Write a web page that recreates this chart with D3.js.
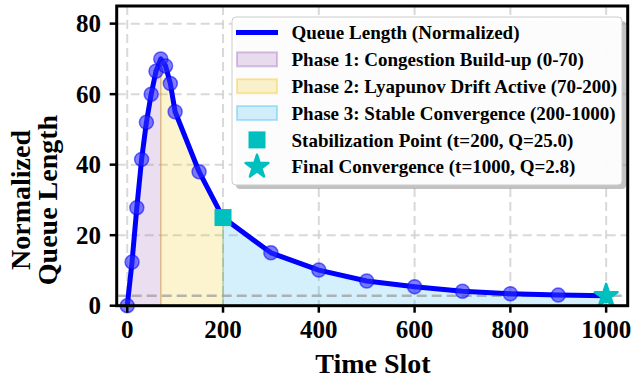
<!DOCTYPE html>
<html><head><meta charset="utf-8">
<script src="https://cdn.jsdelivr.net/npm/d3@7"></script>
<style>body{margin:0;background:#fff}svg{display:block}text{font-family:"Liberation Serif","Times New Roman",serif;font-weight:bold}</style>
</head><body>
<svg id="c" width="634" height="381"></svg>
<script>
const timeSlots = [0,10,20,30,40,50,60,70,80,90,100,150,200,300,400,500,600,700,800,900,1000];
const queueValues = [0,12.4,27.8,41.5,52,60,66.5,70,68,63,55,38,25,15,10.1,7,5.4,4.1,3.4,3.0,2.8];
const xTicks = [0,200,400,600,800,1000];
const yTicks = [0,20,40,60,80];
const phases = [
  {label:"Phase 1: Congestion Build-up (0-70)", start:0, end:70, color:"#9b59b6"},
  {label:"Phase 2: Lyapunov Drift Active (70-200)", start:70, end:200, color:"#f1c40f"},
  {label:"Phase 3: Stable Convergence (200-1000)", start:200, end:1000, color:"#29b6f6"}
];
const stabPoint = {t:200, q:25.0};
const finalPoint = {t:1000, q:2.8};
const seriesLabel = "Queue Length (Normalized)";
const stabLabel = "Stabilization Point (t=200, Q=25.0)";
const finalLabel = "Final Convergence (t=1000, Q=2.8)";

const svg = d3.select("#c");
const L=116.7, R=627.7, T=6, B=305.7;
const x = d3.scaleLinear().domain([-22,1045]).range([L,R]);
const y = d3.scaleLinear().domain([0,85]).range([B,T]);
const pts = timeSlots.map((t,i)=>({t, q:queueValues[i]}));

// grid
const g = svg.append("g");
g.selectAll(".gx").data(xTicks).enter().append("line")
  .attr("x1",d=>x(d)).attr("x2",d=>x(d)).attr("y1",T).attr("y2",B)
  .attr("stroke","#d0d0d0").attr("stroke-width",2).attr("stroke-dasharray","9,5").attr("opacity",0.8);
g.selectAll(".gy").data(yTicks).enter().append("line")
  .attr("x1",L).attr("x2",R).attr("y1",d=>y(d)).attr("y2",d=>y(d))
  .attr("stroke","#d0d0d0").attr("stroke-width",2).attr("stroke-dasharray","9,5").attr("opacity",0.8);

// phase fills
const area = d3.area().x(d=>x(d.t)).y0(y(0)).y1(d=>y(d.q));
phases.forEach(p=>{
  const sub = pts.filter(d=>d.t>=p.start && d.t<=p.end);
  svg.append("path").datum(sub).attr("d",area)
    .attr("fill",p.color).attr("fill-opacity",0.2)
    .attr("stroke",p.color).attr("stroke-opacity",0.35).attr("stroke-width",1.5);
});

// reference line at final value
svg.append("line").attr("x1",L).attr("x2",R).attr("y1",y(finalPoint.q)).attr("y2",y(finalPoint.q))
  .attr("stroke","#999").attr("stroke-width",2.5).attr("stroke-dasharray","10,5").attr("opacity",0.7);

// line
const line = d3.line().x(d=>x(d.t)).y(d=>y(d.q));
svg.append("path").datum(pts).attr("d",line).attr("fill","none")
  .attr("stroke","#0000ff").attr("stroke-width",5).attr("stroke-linejoin","round");
svg.selectAll(".pt").data(pts.filter(d=>d.t!==stabPoint.t && d.t!==finalPoint.t)).enter().append("circle")
  .attr("cx",d=>x(d.t)).attr("cy",d=>y(d.q)).attr("r",7)
  .attr("fill","#2a2aff").attr("fill-opacity",0.6)
  .attr("stroke","#0000ff").attr("stroke-opacity",0.55).attr("stroke-width",1.5);

// special markers
const cyan="#00bfbf";
svg.append("rect").attr("x",x(stabPoint.t)-8.5).attr("y",y(stabPoint.q)-8.5).attr("width",17).attr("height",17).attr("fill",cyan);
const star = d3.symbol().type(d3.symbolStar).size(160);
svg.append("path").attr("d",star()).attr("transform",`translate(${x(finalPoint.t)},${y(finalPoint.q)})`)
  .attr("fill",cyan).attr("stroke",cyan).attr("stroke-width",2.5).attr("stroke-linejoin","round");

// spines
svg.append("rect").attr("x",L).attr("y",T).attr("width",R-L).attr("height",B-T)
  .attr("fill","none").attr("stroke","#000").attr("stroke-width",3);

// axes ticks
svg.selectAll(".xt").data(xTicks).enter().append("line")
  .attr("x1",d=>x(d)).attr("x2",d=>x(d)).attr("y1",B).attr("y2",B+7).attr("stroke","#000").attr("stroke-width",2.5);
svg.selectAll(".xl").data(xTicks).enter().append("text")
  .attr("x",d=>x(d)).attr("y",338).attr("text-anchor","middle").attr("font-size",25).text(d=>d);
svg.selectAll(".yt").data(yTicks).enter().append("line")
  .attr("x1",L-7).attr("x2",L).attr("y1",d=>y(d)).attr("y2",d=>y(d)).attr("stroke","#000").attr("stroke-width",2.5);
svg.selectAll(".yl").data(yTicks).enter().append("text")
  .attr("x",101).attr("y",d=>y(d)).attr("dy","0.35em").attr("text-anchor","end").attr("font-size",25).text(d=>d);

// axis labels
svg.append("text").attr("x",373).attr("y",373).attr("text-anchor","middle").attr("font-size",28).text("Time Slot");
svg.append("text").attr("transform","translate(30,200) rotate(-90)").attr("text-anchor","middle").attr("font-size",28).text("Normalized");
svg.append("text").attr("transform","translate(57,200) rotate(-90)").attr("text-anchor","middle").attr("font-size",28).text("Queue Length");

// legend
const lg = svg.append("g");
lg.append("rect").attr("x",236).attr("y",21).attr("width",390).attr("height",168).attr("rx",4).attr("fill","#999").attr("opacity",0.6);
lg.append("rect").attr("x",232).attr("y",17).attr("width",390).attr("height",168).attr("rx",4)
  .attr("fill","#fff").attr("fill-opacity",0.95).attr("stroke","#ccc").attr("stroke-width",1);
const rowY = i=>32.5+i*26.85;
const hx0=236, hx1=278, tx=291.5;
lg.append("line").attr("x1",hx0).attr("x2",hx1).attr("y1",rowY(0)).attr("y2",rowY(0)).attr("stroke","#0000ff").attr("stroke-width",5);
phases.forEach((p,i)=>{
  lg.append("rect").attr("x",hx0+1).attr("y",rowY(i+1)-7).attr("width",hx1-hx0-2).attr("height",14)
    .attr("fill",p.color).attr("fill-opacity",0.2).attr("stroke",p.color).attr("stroke-opacity",0.35).attr("stroke-width",2);
});
lg.append("rect").attr("x",(hx0+hx1)/2-8.5).attr("y",rowY(4)-8.5).attr("width",17).attr("height",17).attr("fill",cyan);
lg.append("path").attr("d",star()).attr("transform",`translate(${(hx0+hx1)/2},${rowY(5)})`)
  .attr("fill",cyan).attr("stroke",cyan).attr("stroke-width",2.5).attr("stroke-linejoin","round");
const labels=[seriesLabel, ...phases.map(p=>p.label), stabLabel, finalLabel];
labels.forEach((t,i)=>{
  lg.append("text").attr("x",tx).attr("y",rowY(i)).attr("dy","0.35em").attr("font-size",19).text(t);
});
</script>
</body></html>
